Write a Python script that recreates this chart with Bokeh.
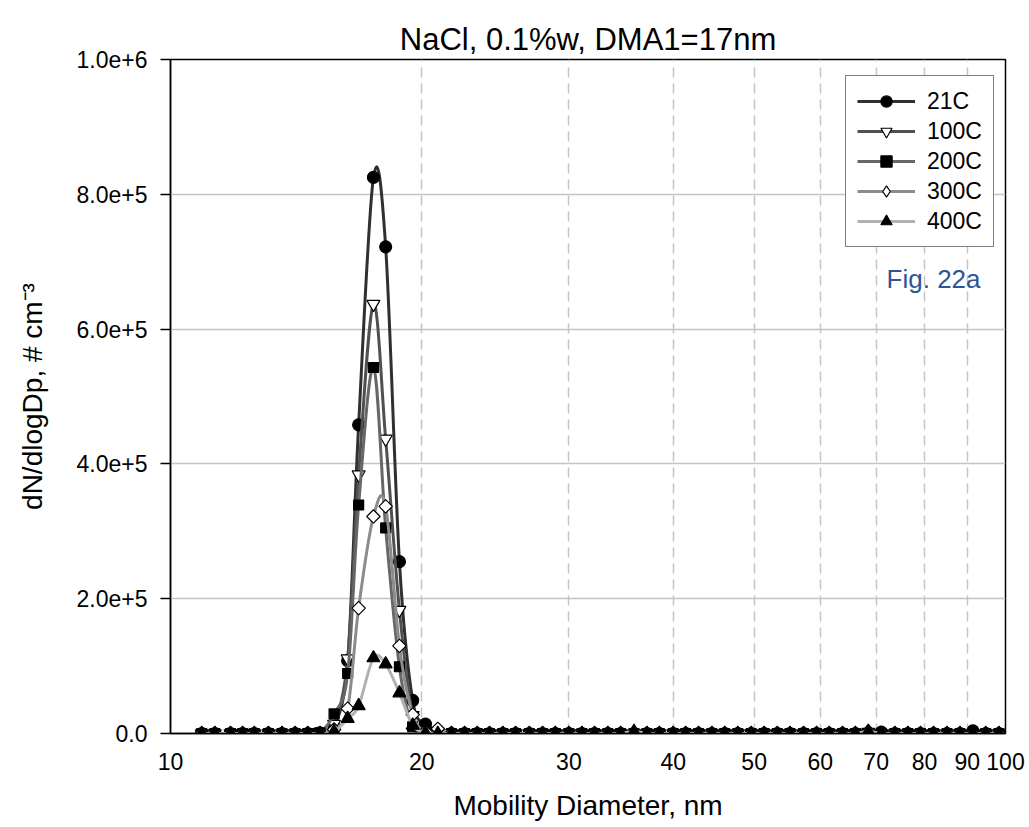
import numpy as np
from bokeh.plotting import figure
from bokeh.models import FixedTicker, Legend, LegendItem, Label, PrintfTickFormatter, ColumnDataSource
from bokeh.embed import file_html
from bokeh.resources import INLINE

# ---------------- data ----------------
diameters = [10.9, 11.3, 11.8, 12.2, 12.6, 13.1, 13.6, 14.1, 14.6, 15.1,
             15.7, 16.3, 16.8, 17.5, 18.1, 18.8, 19.5, 20.2, 20.9, 21.7,
             22.5, 23.3, 24.1, 25.0, 25.9, 26.9, 27.9, 28.9, 30.0, 31.1,
             32.2, 33.4, 34.6, 35.9, 37.2, 38.5, 40.0, 41.4, 42.9, 44.5,
             46.1, 47.8, 49.6, 51.4, 53.3, 55.2, 57.3, 59.4, 61.5, 63.8,
             66.1, 68.5, 71.0, 73.7, 76.4, 79.1, 82.0, 85.1, 88.2, 91.4,
             94.7, 98.2]

series_names = ["21C", "100C", "200C", "300C", "400C"]

conc_21C = [0, 0, 0, 0, 0, 0, 0, 0, 0, 1000,
            10000, 108000, 458000, 825000, 722000, 255000, 49000, 14000, 2000, 0,
            0, 0, 0, 0, 0, 0, 0, 0, 0, 0,
            0, 0, 0, 0, 0, 0, 0, 0, 0, 0,
            0, 0, 0, 0, 0, 0, 0, 0, 0, 0,
            0, 0, 2000, 0, 0, 0, 0, 0, 0, 4000,
            0, 0]
conc_100C = [0, 0, 0, 0, 0, 0, 0, 0, 0, 2000,
             14000, 111000, 384000, 637000, 437000, 183000, 27000, 4000, 1000, 0,
             0, 0, 0, 0, 0, 0, 0, 0, 0, 0,
             0, 0, 0, 0, 0, 0, 0, 0, 0, 0,
             0, 0, 0, 0, 0, 0, 0, 0, 0, 0,
             0, 2000, 0, 0, 0, 0, 0, 0, 0, 0,
             0, 0]
conc_200C = [0, 0, 0, 0, 0, 0, 0, 0, 0, 1000,
             29000, 89000, 339000, 543000, 305000, 99000, 10000, 1000, 0, 0,
             0, 0, 0, 0, 0, 0, 0, 0, 0, 0,
             0, 0, 0, 0, 0, 0, 0, 0, 0, 0,
             0, 0, 0, 0, 0, 0, 0, 0, 0, 0,
             0, 0, 0, 0, 0, 0, 0, 0, 0, 0,
             0, 0]
conc_300C = [0, 0, 0, 0, 0, 0, 0, 0, 0, 0,
             6000, 37000, 186000, 322000, 337000, 130000, 28000, 3000, 7000, 0,
             0, 0, 0, 0, 0, 0, 0, 0, 0, 0,
             0, 0, 0, 0, 0, 0, 0, 0, 0, 0,
             0, 0, 0, 0, 0, 0, 0, 0, 0, 0,
             0, 3000, 0, 0, 0, 0, 0, 0, 0, 0,
             0, 0]
conc_400C = [0, 0, 0, 0, 0, 0, 0, 0, 0, 0,
             3000, 22000, 41000, 112000, 103000, 60000, 12000, 1000, 0, 0,
             0, 0, 0, 0, 0, 0, 0, 0, 0, 0,
             0, 0, 0, 3000, 0, 0, 0, 0, 0, 0,
             0, 0, 0, 0, 0, 0, 0, 0, 0, 0,
             0, 3000, 0, 0, 0, 0, 0, 0, 0, 0,
             0, 0]

x_ticks = [10, 20, 30, 40, 50, 60, 70, 80, 90, 100]
x_grid_ticks = [20, 30, 40, 50, 60, 70, 80, 90]
y_ticks = [0, 200000, 400000, 600000, 800000, 1000000]
y_tick_labels = ["0.0", "2.0e+5", "4.0e+5", "6.0e+5", "8.0e+5", "1.0e+6"]
y_grid_ticks = [200000, 400000, 600000, 800000]

# ---------------- styles ----------------
FONT = "Liberation Sans"
line_colors = ["#303030", "#505050", "#676767", "#8c8c8c", "#b2b2b2"]
markers = ["circle", "inverted_triangle", "square", "square", "triangle"]
legend_markers = ["circle", "inverted_triangle", "square", "diamond", "triangle"]
fills = ["black", "white", "black", "white", "black"]
sizes = [12, 13, 10, 9.5, 13]
angles = [0, 0, 0, np.pi / 4, 0]
all_series = [conc_21C, conc_100C, conc_200C, conc_300C, conc_400C]


def smooth_segments(xs, ys):
    """Catmull-Rom control points (in log-x space) for bezier segments."""
    u = np.log10(np.asarray(xs, float))
    v = np.asarray(ys, float)
    n = len(u)
    i = np.arange(n - 1)
    im1 = np.maximum(i - 1, 0)
    ip2 = np.minimum(i + 2, n - 1)
    cu0 = u[i] + (u[i + 1] - u[im1]) / 6
    cv0 = v[i] + (v[i + 1] - v[im1]) / 6
    cu1 = u[i + 1] - (u[ip2] - u[i]) / 6
    cv1 = v[i + 1] - (v[ip2] - v[i]) / 6
    return dict(x0=10 ** u[i], y0=v[i], x1=10 ** u[i + 1], y1=v[i + 1],
                cx0=10 ** cu0, cy0=cv0, cx1=10 ** cu1, cy1=cv1)


p = figure(width=1029, height=827, x_axis_type="log",
           x_range=(10, 100), y_range=(0, 1000000),
           output_backend="svg", toolbar_location=None,
           min_border_left=170, min_border_right=24,
           min_border_top=59, min_border_bottom=94,
           title="NaCl, 0.1%w, DMA1=17nm")

p.background_fill_color = "white"
p.border_fill_color = "white"
p.outline_line_color = "black"
p.outline_line_width = 1.5
p.outline_line_alpha = 1.0

p.title.align = "center"
p.title.text_font = FONT
p.title.text_font_size = "31px"
p.title.text_font_style = "normal"
p.title.text_color = "black"
p.title.standoff = 5

# axes
p.xaxis.ticker = FixedTicker(ticks=x_ticks, minor_ticks=[])
p.xaxis.formatter = PrintfTickFormatter(format="%d")
p.xaxis.axis_label = "Mobility Diameter, nm"
p.yaxis.ticker = FixedTicker(ticks=y_ticks, minor_ticks=[])
p.yaxis.major_label_overrides = {t: s for t, s in zip(y_ticks, y_tick_labels)}
p.yaxis.axis_label = "dN/dlogDp, # cm\u207b\u00b3"

for ax in (p.xaxis[0], p.yaxis[0]):
    ax.axis_line_color = "black"
    ax.axis_line_width = 1.5
    ax.major_tick_line_color = "black"
    ax.major_tick_line_width = 1.5
    ax.minor_tick_line_color = None
    ax.major_label_text_font = FONT
    ax.major_label_text_font_size = "23px"
    ax.major_label_text_color = "black"
    ax.axis_label_text_font = FONT
    ax.axis_label_text_font_size = "28px"
    ax.axis_label_text_font_style = "normal"
    ax.axis_label_text_color = "black"

p.xaxis.major_tick_in = 0
p.xaxis.major_tick_out = 0
p.xaxis.major_label_standoff = 19
p.xaxis.axis_label_standoff = 17
p.yaxis.major_tick_in = 0
p.yaxis.major_tick_out = 10
p.yaxis.major_label_standoff = 13
p.yaxis.axis_label_standoff = 26

# grids
p.xgrid.ticker = FixedTicker(ticks=x_grid_ticks)
p.xgrid.grid_line_color = "#c4c4c4"
p.xgrid.grid_line_width = 1.5
p.xgrid.grid_line_dash = "10 6"
p.ygrid.ticker = FixedTicker(ticks=y_grid_ticks)
p.ygrid.grid_line_color = "#c4c4c4"
p.ygrid.grid_line_width = 1.5

legend_items = []
for name, vals, lc, mk, lmk, fc, sz, ang in zip(series_names, all_series, line_colors,
                                                 markers, legend_markers, fills, sizes, angles):
    src = ColumnDataSource(smooth_segments(diameters, vals))
    p.bezier(x0="x0", y0="y0", x1="x1", y1="y1", cx0="cx0", cy0="cy0",
             cx1="cx1", cy1="cy1", source=src, line_color=lc, line_width=3,
             line_cap="round")
    p.scatter(x=diameters, y=vals, marker=mk, size=sz, angle=ang,
              fill_color=fc, line_color="black", line_width=1.2)
    # legend proxies (no visible data)
    leg_line = p.line(x=[diameters[0]], y=[np.nan], line_color=lc, line_width=3)
    leg_mark = p.scatter(x=[diameters[0]], y=[np.nan], marker=lmk, size=sz,
                         fill_color=fc, line_color="black", line_width=1.2)
    legend_items.append(LegendItem(label=name, renderers=[leg_line, leg_mark]))

legend = Legend(items=legend_items, location=(675, 486))
legend.label_text_font = FONT
legend.label_text_font_size = "23px"
legend.label_text_color = "black"
legend.glyph_width = 58
legend.glyph_height = 28
legend.label_standoff = 12
legend.spacing = 2
legend.padding = 11
legend.margin = 0
legend.border_line_color = "black"
legend.border_line_width = 1.5
legend.background_fill_color = "white"
legend.background_fill_alpha = 1.0
p.add_layout(legend)

fig_label = Label(x=82.0, y=674000, text="Fig. 22a", text_font=FONT,
                  text_font_size="26px", text_color="#2f5496",
                  text_align="center", text_baseline="middle")
p.add_layout(fig_label)

open("out.html", "w").write(file_html(p, INLINE))
